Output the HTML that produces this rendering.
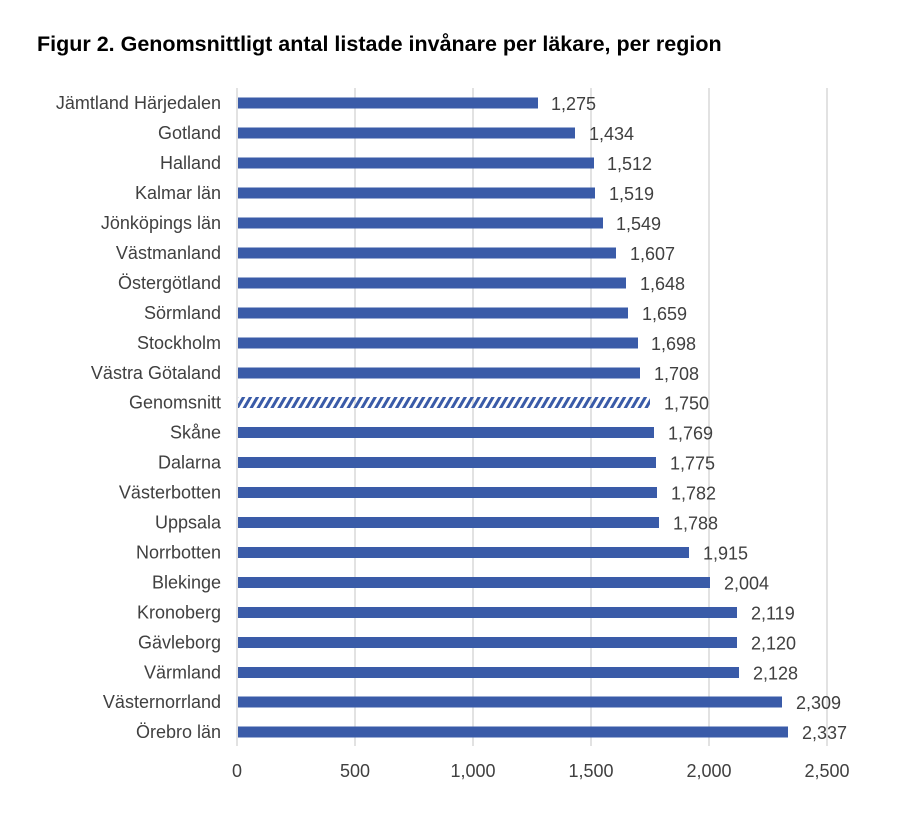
<!DOCTYPE html>
<html><head><meta charset="utf-8"><style>body{margin:0;background:#fff}</style></head><body>
<svg width="908" height="820" xmlns="http://www.w3.org/2000/svg" font-family="Liberation Sans, Arial, sans-serif">
<defs><pattern id="h" width="6" height="6" patternUnits="userSpaceOnUse" patternTransform="rotate(30)"><rect width="3" height="6" fill="#3a5ba8"/></pattern></defs>
<text x="37" y="51" font-size="21.5" font-weight="bold" fill="#000">Figur 2. Genomsnittligt antal listade invånare per läkare, per region</text>
<g stroke="#d9d9d9" stroke-width="1.5">
<line x1="237" y1="88" x2="237" y2="746"/><line x1="355" y1="88" x2="355" y2="746"/><line x1="473" y1="88" x2="473" y2="746"/><line x1="591" y1="88" x2="591" y2="746"/><line x1="709" y1="88" x2="709" y2="746"/><line x1="827" y1="88" x2="827" y2="746"/>
</g>
<g font-size="18" fill="#404040" text-anchor="middle">
<text x="237" y="777">0</text><text x="355" y="777">500</text><text x="473" y="777">1,000</text><text x="591" y="777">1,500</text><text x="709" y="777">2,000</text><text x="827" y="777">2,500</text>
</g>
<g fill="#3a5ba8">
<rect x="238" y="97.5" width="300" height="11"/>
<rect x="238" y="127.5" width="337" height="11"/>
<rect x="238" y="157.5" width="356" height="11"/>
<rect x="238" y="187.5" width="357" height="11"/>
<rect x="238" y="217.5" width="365" height="11"/>
<rect x="238" y="247.5" width="378" height="11"/>
<rect x="238" y="277.5" width="388" height="11"/>
<rect x="238" y="307.5" width="390" height="11"/>
<rect x="238" y="337.5" width="400" height="11"/>
<rect x="238" y="367.5" width="402" height="11"/>
<rect x="238" y="397" width="412" height="11" fill="url(#h)"/>
<rect x="238" y="427" width="416" height="11"/>
<rect x="238" y="457" width="418" height="11"/>
<rect x="238" y="487" width="419" height="11"/>
<rect x="238" y="517" width="421" height="11"/>
<rect x="238" y="547" width="451" height="11"/>
<rect x="238" y="577" width="472" height="11"/>
<rect x="238" y="607" width="499" height="11"/>
<rect x="238" y="637" width="499" height="11"/>
<rect x="238" y="667" width="501" height="11"/>
<rect x="238" y="696.5" width="544" height="11"/>
<rect x="238" y="726.5" width="550" height="11"/>
</g>
<g font-size="18" fill="#404040" text-anchor="end">
<text x="221" y="109">Jämtland Härjedalen</text>
<text x="221" y="139">Gotland</text>
<text x="221" y="169">Halland</text>
<text x="221" y="199">Kalmar län</text>
<text x="221" y="229">Jönköpings län</text>
<text x="221" y="259">Västmanland</text>
<text x="221" y="289">Östergötland</text>
<text x="221" y="319">Sörmland</text>
<text x="221" y="349">Stockholm</text>
<text x="221" y="379">Västra Götaland</text>
<text x="221" y="408.5">Genomsnitt</text>
<text x="221" y="438.5">Skåne</text>
<text x="221" y="468.5">Dalarna</text>
<text x="221" y="498.5">Västerbotten</text>
<text x="221" y="528.5">Uppsala</text>
<text x="221" y="558.5">Norrbotten</text>
<text x="221" y="588.5">Blekinge</text>
<text x="221" y="618.5">Kronoberg</text>
<text x="221" y="648.5">Gävleborg</text>
<text x="221" y="678.5">Värmland</text>
<text x="221" y="708">Västernorrland</text>
<text x="221" y="738">Örebro län</text>
</g>
<g font-size="18" fill="#404040">
<text x="551" y="110">1,275</text>
<text x="589" y="140">1,434</text>
<text x="607" y="170">1,512</text>
<text x="609" y="200">1,519</text>
<text x="616" y="230">1,549</text>
<text x="630" y="260">1,607</text>
<text x="640" y="290">1,648</text>
<text x="642" y="320">1,659</text>
<text x="651" y="350">1,698</text>
<text x="654" y="380">1,708</text>
<text x="664" y="409.5">1,750</text>
<text x="668" y="439.5">1,769</text>
<text x="670" y="469.5">1,775</text>
<text x="671" y="499.5">1,782</text>
<text x="673" y="529.5">1,788</text>
<text x="703" y="559.5">1,915</text>
<text x="724" y="589.5">2,004</text>
<text x="751" y="619.5">2,119</text>
<text x="751" y="649.5">2,120</text>
<text x="753" y="679.5">2,128</text>
<text x="796" y="709">2,309</text>
<text x="802" y="739">2,337</text>
</g>
</svg>
</body></html>
